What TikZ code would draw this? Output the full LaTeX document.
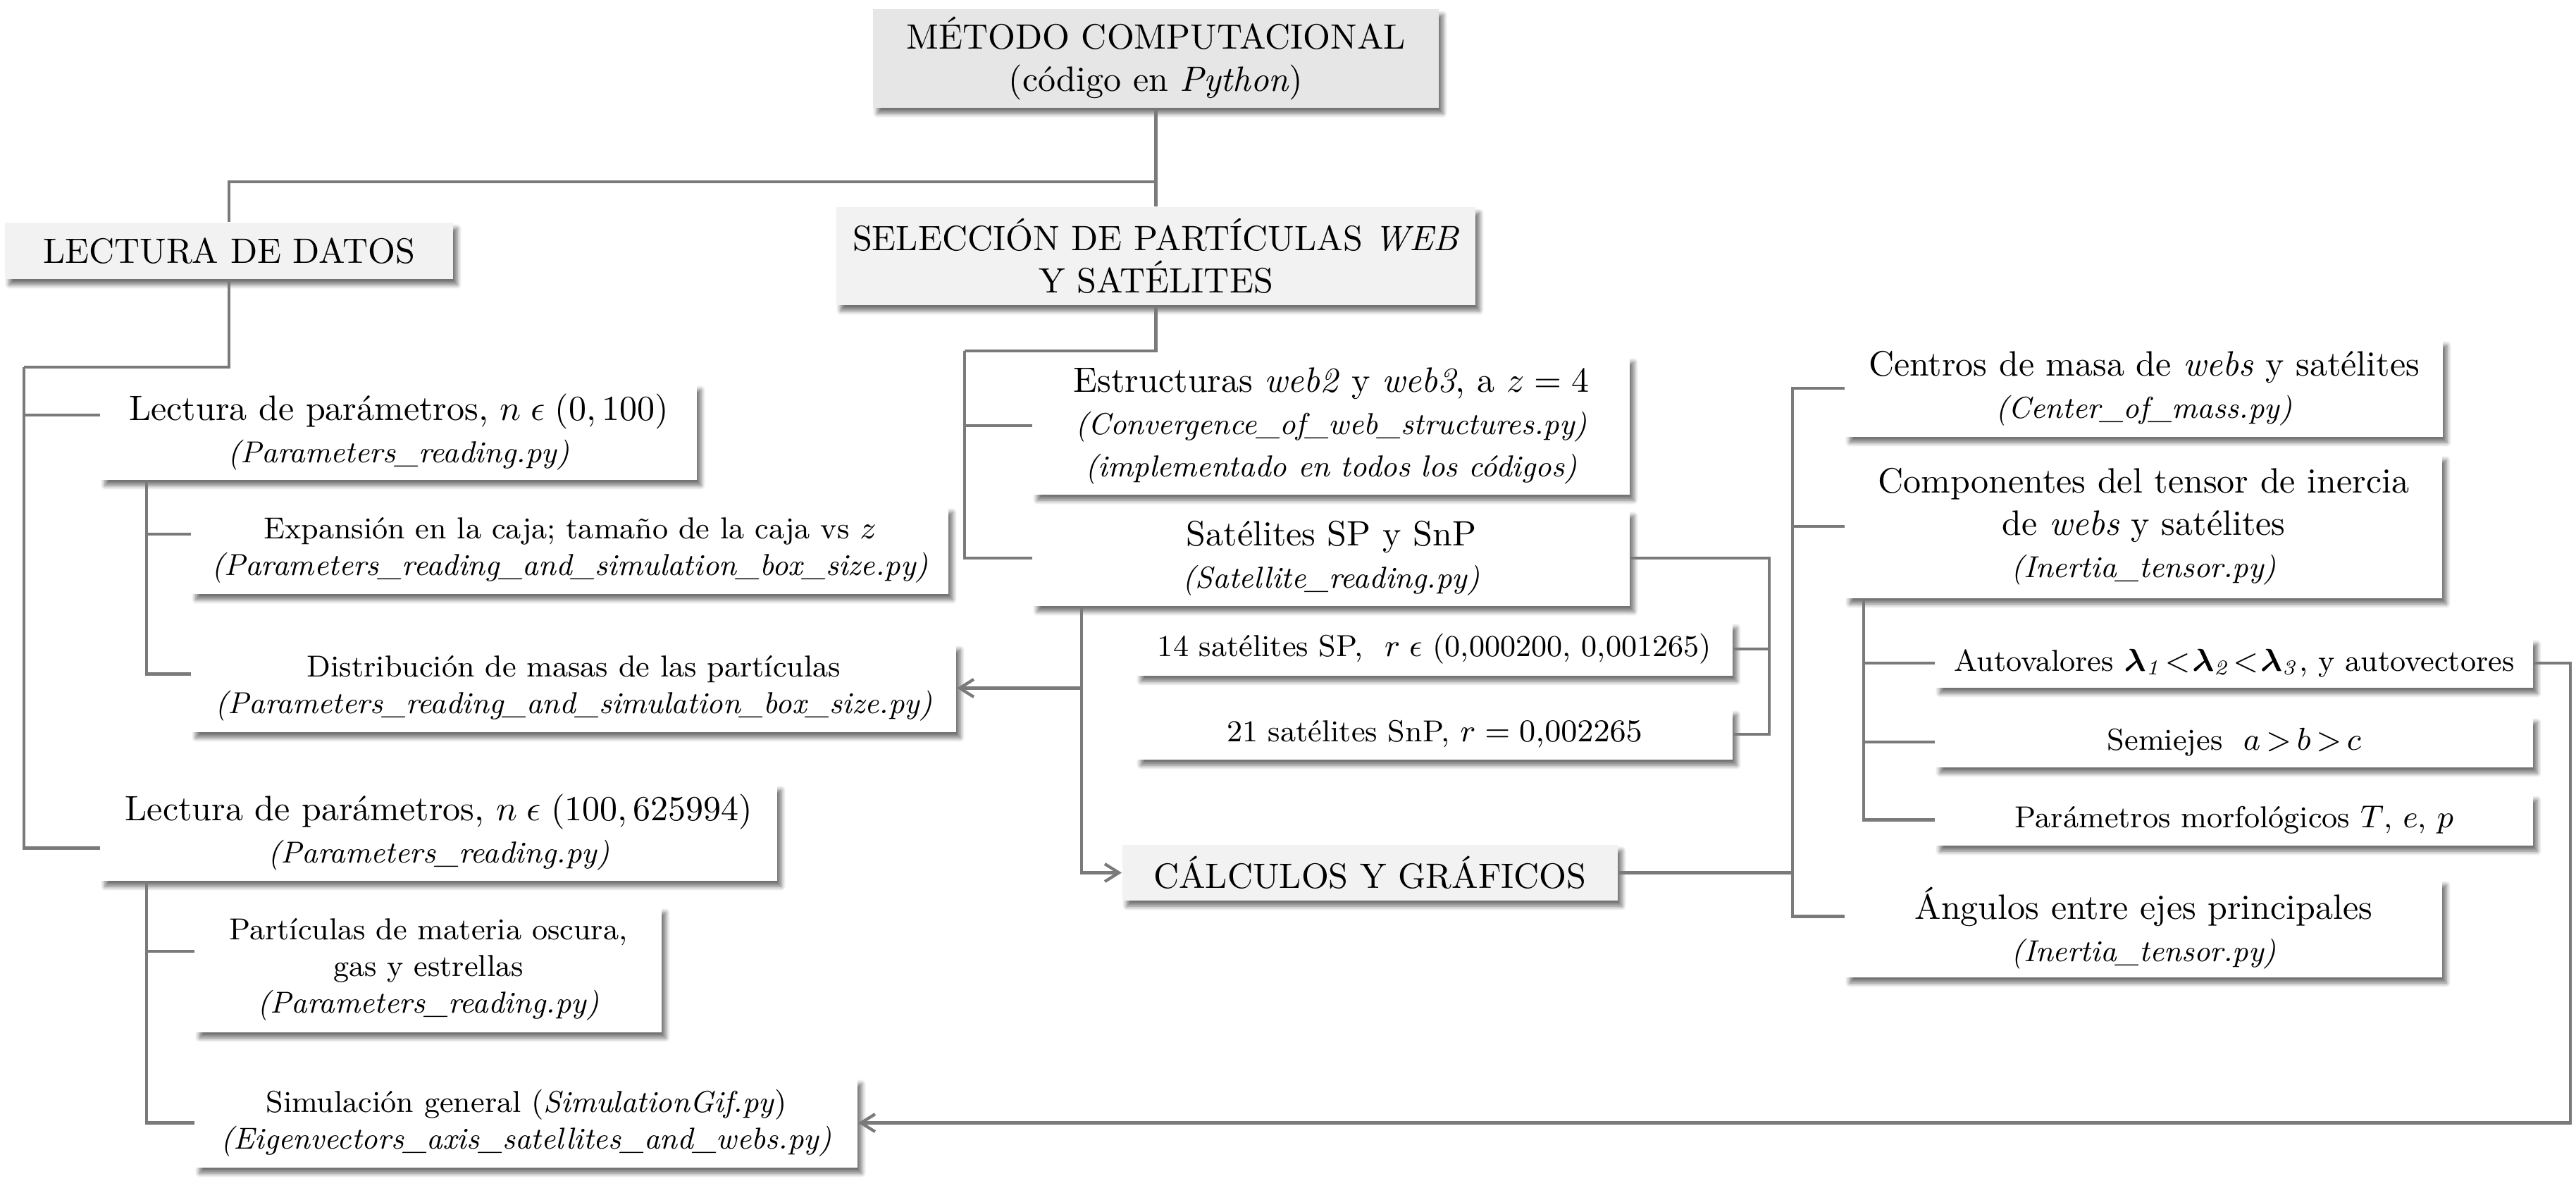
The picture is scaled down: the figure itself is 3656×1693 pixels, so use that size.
\documentclass[tikz,border=0pt]{standalone}
\usepackage{bm}
\usetikzlibrary{arrows.meta,shadows.blur,calc}
\definecolor{hdrA}{HTML}{E6E6E6}
\definecolor{hdrB}{HTML}{F2F2F2}
\definecolor{lineC}{HTML}{7A7A7A}
\newcommand\smallfnt{\fontsize{8.6}{10.4}\selectfont}
\tikzset{
  box/.style={fill=white, inner sep=0pt, align=center,
    blur shadow={shadow xshift=1.2pt, shadow yshift=-1.6pt, shadow blur radius=1.2pt, shadow blur steps=6, shadow opacity=55}},
  hdr/.style={box, fill=hdrB},
  subbox/.style={box, font=\smallfnt},
  conn/.style={draw=lineC, line width=0.85pt},
  arr/.style={conn, -{Straight Barb[length=4pt,width=5pt]}},
}
\begin{document}
\begin{tikzpicture}[x=0.2pt,y=-0.2pt]
\useasboundingbox (0,0) rectangle (3656,1693);

% headers
\node[box,fill=hdrA,minimum width=160.6pt,minimum height=28pt] (metodo) at (1640.5,83)
  {MÉTODO COMPUTACIONAL\\(código en \textit{Python})};
\node[hdr,minimum width=127.2pt,minimum height=16pt] (lectura) at (325,356) {LECTURA DE DATOS};
\node[hdr,minimum width=181.4pt,minimum height=27.8pt] (seleccion) at (1640.5,363.5)
  {SELECCIÓN DE PARTÍCULAS \textit{WEB}\\Y SATÉLITES};
\node[hdr,minimum width=140.6pt,minimum height=15.8pt] (calculos) at (1944.5,1238.5) {CÁLCULOS Y GRÁFICOS};

% left column
\node[box,minimum width=169.2pt,minimum height=27.2pt] (lect1) at (566,613)
  {Lectura de parámetros, $n\mathrel{\epsilon}(0, 100)$\\{\smallfnt\textit{(Parameters\_reading.py)}}};
\node[subbox,minimum width=214.8pt,minimum height=24.8pt] (expansion) at (809,781)
  {Expansión en la caja; tamaño de la caja vs $z$\\\textit{(Parameters\_reading\_and\_simulation\_box\_size.py)}};
\node[subbox,minimum width=217pt,minimum height=25pt] (distrib) at (814.5,976.5)
  {Distribución de masas de las partículas\\\textit{(Parameters\_reading\_and\_simulation\_box\_size.py)}};
\node[box,minimum width=192pt,minimum height=27.4pt] (lect2) at (623,1181.5)
  {Lectura de parámetros, $n\mathrel{\epsilon}(100, 625994)$\\{\smallfnt\textit{(Parameters\_reading.py)}}};
\node[subbox,minimum width=132.4pt,minimum height=35.6pt] (particulas) at (608,1376)
  {Partículas de materia oscura,\\gas y estrellas\\\textit{(Parameters\_reading.py)}};
\node[subbox,minimum width=188pt,minimum height=25.4pt] (simul) at (747,1593.5)
  {Simulación general (\textit{SimulationGif.py})\\\textit{(Eigenvectors\_axis\_satellites\_and\_webs.py)}};

% middle column
\node[box,minimum width=169.4pt,minimum height=39.2pt] (estruct) at (1889.5,604)
  {Estructuras \textit{web2} y \textit{web3}, a $z = 4$\\{\smallfnt\textit{(Convergence\_of\_web\_structures.py)}}\\{\smallfnt\textit{(implementado en todos los códigos)}}};
\node[box,minimum width=169.4pt,minimum height=27.2pt] (satel) at (1889.5,792)
  {Satélites SP y SnP\\{\smallfnt\textit{(Satellite\_reading.py)}}};
\node[subbox,minimum width=169.2pt,minimum height=15.2pt] (sp14) at (2036,921)
  {14 satélites SP,\hspace{6pt}$r\mathrel{\epsilon}$ (0,000200, 0,001265)};
\node[subbox,minimum width=169.2pt,minimum height=14.4pt] (snp21) at (2036,1042)
  {21 satélites SnP, $r = 0{,}002265$};

% right column
\node[box,minimum width=169.6pt,minimum height=27.6pt] (centros) at (3043,551)
  {Centros de masa de \textit{webs} y satélites\\{\smallfnt\textit{(Center\_of\_mass.py)}}};
\node[box,minimum width=169.4pt,minimum height=40.8pt] (compon) at (3042.5,747)
  {Componentes del tensor de inercia\\de \textit{webs} y satélites\\{\smallfnt\textit{(Inertia\_tensor.py)}}};
\node[subbox,minimum width=169.6pt,minimum height=14pt] (autoval) at (3171,941)
  {Autovalores $\bm{\lambda}_{\mathit{1}}\mkern1mu{<}\mkern1mu\bm{\lambda}_{\mathit{2}}\mkern1mu{<}\mkern1mu\bm{\lambda}_{\mathit{3}}$, y autovectores};
\node[subbox,minimum width=169.6pt,minimum height=14.4pt] (semi) at (3171,1053)
  {Semiejes\ \ $a\mkern3mu{>}\mkern3mu b\mkern3mu{>}\mkern3mu c$};
\node[subbox,minimum width=169.6pt,minimum height=14.6pt] (param) at (3171,1163.5)
  {Parámetros morfológicos $T$, $e$, $p$};
\node[box,minimum width=169.4pt,minimum height=27.8pt] (angulos) at (3042.5,1317.5)
  {Ángulos entre ejes principales\\{\smallfnt\textit{(Inertia\_tensor.py)}}};

% connectors: top
\coordinate (mJ) at (1640.5,258);
\draw[conn] (metodo.south) -- (seleccion.north);
\draw[conn] (mJ) -| (lectura.north);

% lectura branch
\coordinate (tL) at (34,521);
\coordinate (l1a) at ([yshift=4.8pt]lect1.west);
\coordinate (l2a) at ([yshift=-4.4pt]lect2.west);
\draw[conn] (lectura.south) |- (tL);
\draw[conn] (tL) |- (l2a);
\draw[conn] (tL) |- (l1a);

\coordinate (s1) at (208,0 |- lect1.south);
\coordinate (ea) at ([yshift=4.6pt]expansion.west);
\coordinate (da) at ([yshift=4pt]distrib.west);
\draw[conn] (s1) |- (ea);
\draw[conn] (s1) |- (da);

\coordinate (s2) at (208,0 |- lect2.south);
\coordinate (pa) at ([yshift=5.2pt]particulas.west);
\draw[conn] (s2) |- (pa);
\draw[conn] (s2) |- (simul.west);

% seleccion branch
\coordinate (sJ) at (1369,498);
\draw[conn] (seleccion.south) |- (sJ);
\draw[conn] (sJ) |- (estruct.west);
\draw[conn] (sJ) |- (satel.west);

\coordinate (rJ) at (2511,0 |- satel.east);
\draw[conn] (satel.east) -- (rJ) |- (snp21.east);
\draw[conn] (rJ) |- (sp14.east);

\coordinate (bS) at (1535,0 |- satel.south);
\draw[arr] (bS) |- (calculos.west);
\draw[arr] (bS) |- (distrib.east);

% calculos branch
\coordinate (cJ) at (2544,0 |- calculos.east);
\coordinate (aa) at ([yshift=3.4pt]angulos.west);
\draw[conn] (calculos.east) -- (cJ);
\draw[conn] (centros.west) -| (aa -| cJ) -- (aa);
\draw[conn] (compon.west) -- (compon.west -| cJ);

\coordinate (s3) at (2645,0 |- compon.south);
\draw[conn] (s3) |- (param.west);
\draw[conn] (s3) |- (autoval.west);
\draw[conn] (s3) |- (semi.west);

% feedback
\coordinate (fR) at (3648,0 |- autoval.east);
\draw[arr] (autoval.east) -- (fR) |- (simul.east);
\end{tikzpicture}
\end{document}
